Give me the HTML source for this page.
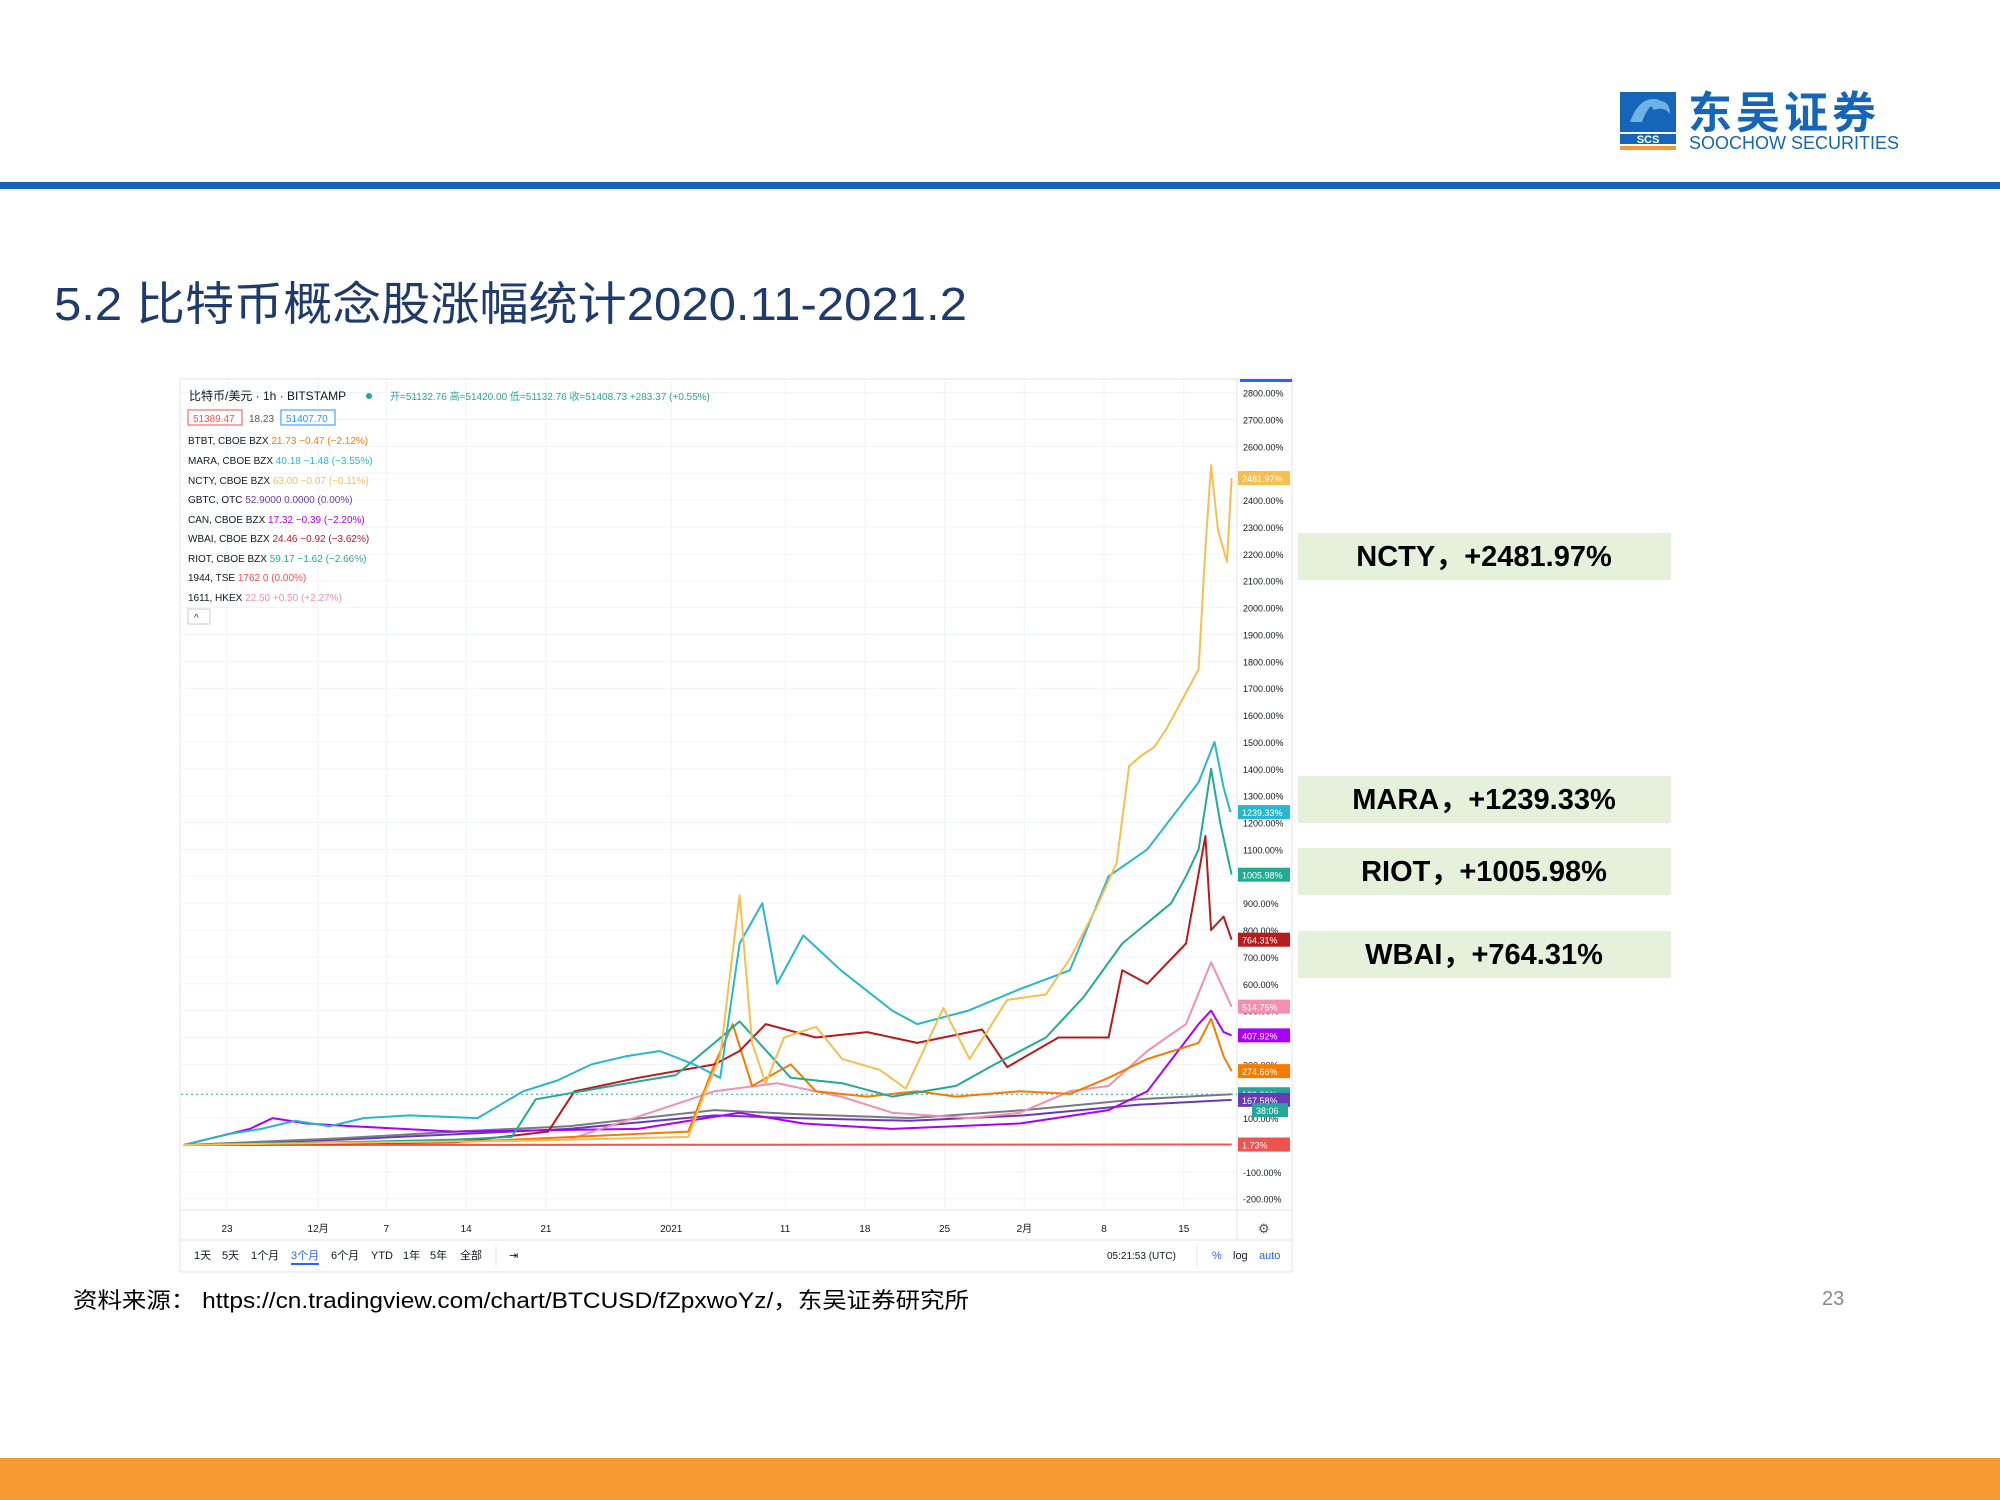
<!DOCTYPE html>
<html><head><meta charset="utf-8"><style>
body{margin:0;background:#fff}
svg{display:block}
text{font-family:"Liberation Sans","Noto Sans CJK SC",sans-serif}
</style></head><body>
<svg id="s" width="2000" height="1500" viewBox="0 0 2000 1500" xmlns="http://www.w3.org/2000/svg">
<rect width="2000" height="1500" fill="#fff"/>
<g>
<rect x="1620" y="92" width="56" height="40" fill="#1565b8"/>
<path d="M1630 122 q10 -28 30 -22 q-12 4 -18 22z M1648 102 q22 -6 22 12 q-6 -8 -16 -4z" fill="#6fb2e6"/>
<rect x="1620" y="134" width="56" height="10" fill="#1565b8"/>
<text x="1648" y="143" font-size="11" font-weight="bold" fill="#fff" text-anchor="middle">SCS</text>
<rect x="1620" y="146" width="56" height="4" fill="#f29a2e"/>
<text x="1688" y="128" font-size="44" font-weight="bold" fill="#1565b8" letter-spacing="4">东吴证券</text>
<text x="1689" y="149" font-size="18" fill="#1565b8">SOOCHOW SECURITIES</text>
</g>
<rect x="0" y="182" width="2000" height="7" fill="#1565b8"/>
<text x="54" y="320" font-size="46" fill="#1f3b6e" textLength="913" lengthAdjust="spacingAndGlyphs">5.2 比特币概念股涨幅统计2020.11-2021.2</text>
<g>
<rect x="180" y="379" width="1112" height="893" fill="#fff" stroke="#e0e3eb"/>
<rect x="1240" y="379" width="52" height="3" fill="#2962ff"/>
<line x1="1237" y1="379" x2="1237" y2="1240" stroke="#e0e3eb"/>
<line x1="180" y1="1210" x2="1292" y2="1210" stroke="#e0e3eb"/>
<line x1="180" y1="1240" x2="1292" y2="1240" stroke="#e0e3eb"/>
</g>
<g id="grid"></g>
<g id="plot"></g>
<g id="yaxis"></g>
<g id="xaxis"></g>
<g font-size="11">
<text x="189" y="400" font-size="12" fill="#131722">比特币/美元 · 1h · BITSTAMP</text>
<circle cx="369" cy="396" r="3" fill="#26a69a"/>
<text x="390" y="400" font-size="10" fill="#26a69a">开=51132.76 高=51420.00 低=51132.76 收=51408.73 +283.37 (+0.55%)</text>
<rect x="188" y="410" width="54" height="15" fill="#fff" stroke="#ef5350"/><text x="193" y="422" font-size="10" fill="#ef5350">51389.47</text>
<text x="249" y="422" font-size="10" fill="#555">18.23</text>
<rect x="281" y="410" width="54" height="15" fill="#fff" stroke="#2196f3"/><text x="286" y="422" font-size="10" fill="#2196f3">51407.70</text>
<text x="188" y="444" font-size="10" fill="#131722">BTBT, CBOE BZX <tspan fill="#f57c00">21.73 −0.47 (−2.12%)</tspan></text>
<text x="188" y="464" font-size="10" fill="#131722">MARA, CBOE BZX <tspan fill="#29b6cf">40.18 −1.48 (−3.55%)</tspan></text>
<text x="188" y="484" font-size="10" fill="#131722">NCTY, CBOE BZX <tspan fill="#f6bf4f">63.00 −0.07 (−0.11%)</tspan></text>
<text x="188" y="503" font-size="10" fill="#131722">GBTC, OTC <tspan fill="#673ab7">52.9000 0.0000 (0.00%)</tspan></text>
<text x="188" y="523" font-size="10" fill="#131722">CAN, CBOE BZX <tspan fill="#aa00ff">17.32 −0.39 (−2.20%)</tspan></text>
<text x="188" y="542" font-size="10" fill="#131722">WBAI, CBOE BZX <tspan fill="#b71c1c">24.46 −0.92 (−3.62%)</tspan></text>
<text x="188" y="562" font-size="10" fill="#131722">RIOT, CBOE BZX <tspan fill="#22ab94">59.17 −1.62 (−2.66%)</tspan></text>
<text x="188" y="581" font-size="10" fill="#131722">1944, TSE <tspan fill="#ef5350">1762 0 (0.00%)</tspan></text>
<text x="188" y="601" font-size="10" fill="#131722">1611, HKEX <tspan fill="#f48fb1">22.50 +0.50 (+2.27%)</tspan></text>
<rect x="188" y="609" width="22" height="15" fill="#fff" stroke="#ccc"/><text x="194" y="621" font-size="10" fill="#333">^</text>
</g>
<g font-size="11" fill="#131722">
<text x="194" y="1259">1天</text>
<text x="222" y="1259">5天</text>
<text x="251" y="1259">1个月</text>
<text x="291" y="1259" fill="#2962ff">3个月</text>
<rect x="291" y="1263" width="28" height="2" fill="#2962ff"/>
<text x="331" y="1259">6个月</text>
<text x="371" y="1259">YTD</text>
<text x="403" y="1259">1年</text>
<text x="430" y="1259">5年</text>
<text x="460" y="1259">全部</text>
<line x1="496" y1="1246" x2="496" y2="1266" stroke="#e0e3eb"/>
<text x="509" y="1259">⇥</text>
<text x="1107" y="1259" font-size="10">05:21:53 (UTC)</text>
<line x1="1197" y1="1246" x2="1197" y2="1266" stroke="#e0e3eb"/>
<text x="1212" y="1259" fill="#2962ff">%</text>
<text x="1233" y="1259">log</text>
<text x="1259" y="1259" fill="#2962ff">auto</text>
<text x="1258" y="1233" font-size="13" fill="#555">⚙</text>
</g>
<g font-size="29" font-weight="bold" fill="#000" text-anchor="middle">
<rect x="1298" y="533" width="373" height="47" fill="#e6f1dc"/><text x="1484" y="566">NCTY，+2481.97%</text>
<rect x="1298" y="776" width="373" height="47" fill="#e6f1dc"/><text x="1484" y="809">MARA，+1239.33%</text>
<rect x="1298" y="848" width="373" height="47" fill="#e6f1dc"/><text x="1484" y="881">RIOT，+1005.98%</text>
<rect x="1298" y="931" width="373" height="47" fill="#e6f1dc"/><text x="1484" y="964">WBAI，+764.31%</text>
</g>
<text x="73" y="1308" font-size="22" fill="#000" textLength="896" lengthAdjust="spacingAndGlyphs">资料来源：  https://cn.tradingview.com/chart/BTCUSD/fZpxwoYz/，东吴证券研究所</text>
<text x="1822" y="1305" font-size="20" fill="#888">23</text>
<rect x="0" y="1458" width="2000" height="42" fill="#f79a32"/>
</svg>
<script>
const yTicks=[2800,2700,2600,2500,2400,2300,2200,2100,2000,1900,1800,1700,1600,1500,1400,1300,1200,1100,1000,900,800,700,600,500,400,300,200,100,0,-100,-200];
const xTickDays=[0,8,14,21,28,39,49,56,63,70,77,84];
const xTickLabels=["23","12月","7","14","21","2021","11","18","25","2月","8","15"];
const nctyDays=[-3.8,13.7,24.9,40.5,42,43.3,45,46.1,47.3,48.9,51.7,54,57.3,59.6,62.9,65.2,68.5,71.9,74.1,76.4,78.1,79.2,80.3,81.4,82.5,85.3,85.9,86.4,87,87.8,88.2];
const nctyVals=[0,10,15,30,200,330,930,380,230,400,440,320,280,210,510,320,540,560,700,890,1050,1410,1450,1480,1550,1770,2220,2530,2290,2170,2482];
const maraDays=[-3.8,0,3,6,9,12,16,22,24,26,29,32,35,38,41,43.3,45,47,48.3,50.6,53.9,58.4,60.6,65.1,69.6,74,77.4,80.8,85.3,86.7,87.5,88.1];
const maraVals=[0,40,60,90,70,100,110,100,150,200,240,300,330,350,300,250,750,900,600,780,650,500,450,500,580,650,1000,1100,1350,1500,1330,1239];
const riotDays=[-3.8,10,20,25,27.1,33.8,39.4,42.8,45,49.5,54,58.4,64,67.4,71.9,75.2,78.6,82.9,84.2,85.3,86.4,87.2,88.2];
const riotVals=[0,10,20,30,170,220,260,380,460,250,230,180,220,300,400,550,750,900,1000,1100,1400,1200,1006];
const wbaiDays=[-3.8,20,28.2,30.5,36.1,42.8,45,47.3,51.7,56.2,60.6,66.3,68.5,73,77.4,78.6,80.8,84.2,85.9,86.4,87.5,88.2];
const wbaiVals=[0,10,50,200,250,300,350,450,400,420,380,430,290,400,400,650,600,750,1150,800,850,764];
const btbtDays=[-3.8,20,40.5,42.8,44.4,46.1,49.5,51.7,56.2,60.6,64,69.6,74,77.4,80.8,85.3,86.4,87.5,88.2];
const btbtVals=[0,10,50,300,450,220,300,200,180,200,180,200,190,250,320,380,470,330,275];
const hkexDays=[-3.8,30,42.8,48.3,53.9,58.4,65.1,69.6,74,77.4,80.8,84.2,86.4,88.2];
const hkexVals=[0,20,200,230,180,120,100,120,200,220,350,450,680,515];
const canDays=[-3.8,2,4,7,11,20,36.1,45,50.6,58.4,69.6,77.4,80.8,85.3,86.4,87.5,88.2];
const canVals=[0,60,100,80,70,50,60,120,80,60,80,130,200,450,500,420,408];
const gbtcDays=[-3.8,10,20,30,42.8,50,60,70,80,88.2];
const gbtcVals=[0,20,40,60,110,100,90,110,150,168];
const btcDays=[-3.8,10,20,30,42.8,50,60,70,80,88.2];
const btcVals=[0,25,50,70,130,115,100,130,170,189];
const tseDays=[-3.8,88.2];
const tseVals=[0,1.73];
const lastLabels=["2481.97%","1239.33%","1005.98%","764.31%","514.75%","407.92%","274.66%","189.31%","167.58%","1.73%"];
const lastVals=[2482,1239,1006,764,515,408,275,189,168,1.73];
const lastColors=["#f6bf4f","#29b6cf","#22ab94","#b71c1c","#f48fb1","#aa00ff","#f57c00","#26a69a","#673ab7","#ef5350"];
const NS="http://www.w3.org/2000/svg";
function xs(d){return 227+d*11.39;}
function ys(v){return 1145-v*0.2687;}
function mk(t,a,p){const e=document.createElementNS(NS,t);for(const k in a)e.setAttribute(k,a[k]);p.appendChild(e);return e;}
const grid=document.getElementById('grid'),plot=document.getElementById('plot'),ya=document.getElementById('yaxis'),xa=document.getElementById('xaxis');
yTicks.forEach(v=>{const l=mk('line',{x1:181,x2:1237,y1:ys(v),y2:ys(v),stroke:'#f0f3fa'},grid);


const t=mk('text',{x:1243,y:ys(v)+4,'font-size':9,fill:'#131722'},ya);t.textContent=v.toFixed(2)+'%';

});
xTickDays.forEach((d,i)=>{const l=mk('line',{x1:xs(d),x2:xs(d),y1:380,y2:1210,stroke:'#f0f3fa'},grid);


const t=mk('text',{x:xs(d),y:1232,'font-size':10,fill:'#131722','text-anchor':'middle'},xa);t.textContent=xTickLabels[i];

});
const dash=mk('line',{x1:181,x2:1237,y1:ys(189),y2:ys(189),stroke:'#26a69a','stroke-dasharray':'2 3','stroke-width':1},plot);


const series=[["tse",tseDays,tseVals,"#ef5350"],["gbtc",gbtcDays,gbtcVals,"#673ab7"],["btc",btcDays,btcVals,"#787b86"],["can",canDays,canVals,"#aa00ff"],["hkex",hkexDays,hkexVals,"#f48fb1"],["btbt",btbtDays,btbtVals,"#f57c00"],["wbai",wbaiDays,wbaiVals,"#b71c1c"],["riot",riotDays,riotVals,"#22ab94"],["mara",maraDays,maraVals,"#29b6cf"],["ncty",nctyDays,nctyVals,"#f6bf4f"]];
series.forEach(s=>{const pts=s[1].map((d,i)=>xs(d).toFixed(1)+','+ys(s[2][i]).toFixed(1)).join(' ');
const p=mk('polyline',{points:pts,fill:'none',stroke:s[3],'stroke-width':2,'stroke-linejoin':'round'},plot);

});
lastVals.forEach((v,i)=>{const y=ys(v);
const r=mk('rect',{x:1238,y:y-7,width:52,height:14,fill:lastColors[i]},ya);


const t=mk('text',{x:1242,y:y+4,'font-size':9,fill:'#fff'},ya);t.textContent=lastLabels[i];

});
const cd=mk('rect',{x:1252,y:ys(189)+9,width:36,height:14,fill:'#26a69a'},ya);


const cdt=mk('text',{x:1256,y:ys(189)+20,'font-size':9,fill:'#fff'},ya);cdt.textContent='38:06';


</script>
</body></html>
